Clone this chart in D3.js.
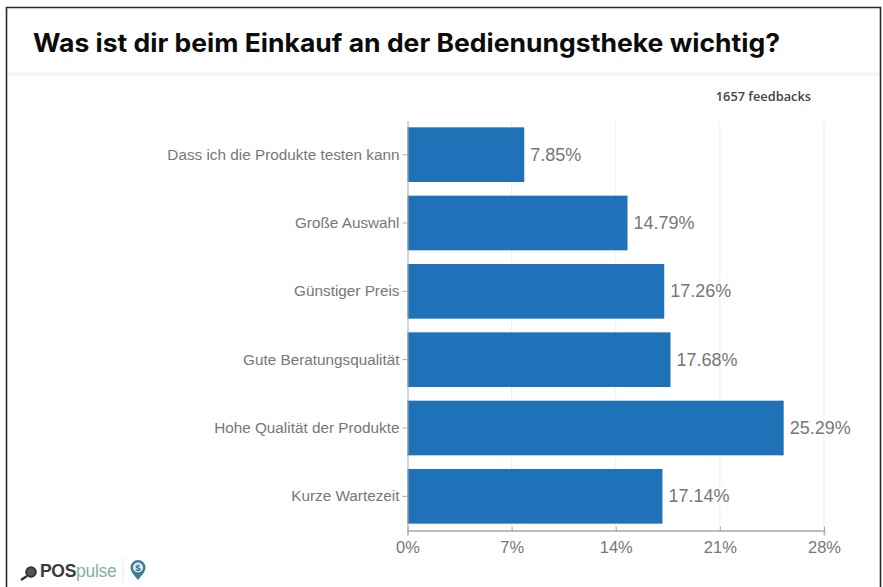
<!DOCTYPE html>
<html><head><meta charset="utf-8">
<script src="https://cdnjs.cloudflare.com/ajax/libs/d3/7.8.5/d3.min.js"></script>
<style>html,body{margin:0;padding:0;background:#fff}svg{display:block}</style>
</head><body><svg id="c" width="883" height="587"></svg>
<script>
const categories = ["Dass ich die Produkte testen kann","Große Auswahl","Günstiger Preis","Gute Beratungsqualität","Hohe Qualität der Produkte","Kurze Wartezeit"];
const shares = [7.85,14.79,17.26,17.68,25.29,17.14];
const tickValues = [0,7,14,21,28];
const titleText = "Was ist dir beim Einkauf an der Bedienungstheke wichtig?";
const feedbackText = "1657 feedbacks";

const svg = d3.select("#c");
const font = "Liberation Sans, Arial, sans-serif";
const grey = "#777";

// Card frame and title band
svg.append("path").attr("d","M6.5,587V7.5H880.5V587").attr("fill","none").attr("stroke","#2b2b2b").attr("stroke-width",1.6);
svg.append("line").attr("x1",8).attr("x2",879).attr("y1",74).attr("y2",74).attr("stroke","#f5f5f3").attr("stroke-width",3);
svg.append("text").text(titleText).attr("x",33).attr("y",52).attr("font-family","Inter, "+font).attr("font-weight",700).attr("font-size",25.5).attr("fill","#0c0c0c").attr("textLength",747).attr("lengthAdjust","spacingAndGlyphs");
svg.append("text").text(feedbackText).attr("x",811).attr("y",101).attr("text-anchor","end").attr("font-family","Open Sans, "+font).attr("font-weight",600).attr("font-size",12.8).attr("fill","#444");

const x = d3.scaleLinear().domain([0,28]).range([407.5,824]);
const y = d3.scaleBand().domain(categories).range([120.5,530.5]).paddingInner(0.2).paddingOuter(0.1);

// Vertical gridlines
svg.append("g").selectAll("line").data(tickValues.slice(1)).join("line")
  .attr("x1",d=>x(d)).attr("x2",d=>x(d)).attr("y1",122).attr("y2",531).attr("stroke","#efeeec").attr("stroke-width",1);

// Bars
svg.append("g").selectAll("rect").data(categories).join("rect")
  .attr("x",x(0)).attr("y",d=>y(d)).attr("height",y.bandwidth())
  .attr("width",(d,i)=>x(shares[i])-x(0)).attr("fill","#1f72b8");

// Value labels
svg.append("g").selectAll("text").data(categories).join("text")
  .attr("x",(d,i)=>x(shares[i])+6).attr("y",d=>y(d)+y.bandwidth()/2+6)
  .attr("font-family",font).attr("font-size",18).attr("fill",grey)
  .text((d,i)=>shares[i].toFixed(2)+"%");

// Axes
const xAxis = d3.axisBottom(x).tickValues(tickValues).tickSize(5).tickPadding(6).tickFormat(d=>d+"%");
const gx = svg.append("g").attr("transform","translate(0,530.5)").call(xAxis);
gx.select(".domain").attr("stroke","#bdbdbd").attr("stroke-width",2);
gx.selectAll(".tick line").attr("stroke","#a9a9a9").attr("y1",-4).attr("y2",1);
gx.selectAll("text").attr("font-family",font).attr("font-size",16.5).attr("fill",grey);

const yAxis = d3.axisLeft(y).tickSize(5).tickSizeOuter(0).tickPadding(3);
const gy = svg.append("g").attr("transform","translate(407.5,0)").call(yAxis);
gy.select(".domain").attr("stroke","#a9a9a9").attr("stroke-width",1);
gy.selectAll(".tick line").attr("stroke","#a9a9a9");
gy.selectAll("text").attr("font-family",font).attr("font-size",15.3).attr("fill",grey);

// Brand mark in the footer
const brand = svg.append("g");
brand.append("circle").attr("cx",31).attr("cy",572).attr("r",4.8).attr("fill","#555").attr("stroke","#333").attr("stroke-width",2);
brand.append("line").attr("x1",27).attr("y1",576).attr("x2",21).attr("y2",580).attr("stroke","#333").attr("stroke-width",2.4);
brand.append("text").attr("x",40).attr("y",577).attr("font-family",font).attr("font-size",17.5).attr("letter-spacing",-0.3)
  .call(t=>{t.append("tspan").attr("font-weight",700).attr("fill","#3a3a3a").text("POS");t.append("tspan").attr("fill","#7fb3a6").text("pulse");});
brand.append("line").attr("x1",123).attr("x2",123).attr("y1",558).attr("y2",584).attr("stroke","#e8e8e8");
brand.append("path").attr("d","M130.5,567.5a7.5,7.5 0 1 1 15,0c0,5 -5,9 -7.5,12.5c-2.5,-3.5 -7.5,-7.5 -7.5,-12.5z").attr("fill","#3c7f92");
brand.append("circle").attr("cx",138).attr("cy",567.5).attr("r",5).attr("fill","#dfeef2");
brand.append("text").text("$").attr("x",138).attr("y",571).attr("text-anchor","middle").attr("font-family",font).attr("font-weight",700).attr("font-size",9.5).attr("fill","#2a6f86");
</script></body></html>
